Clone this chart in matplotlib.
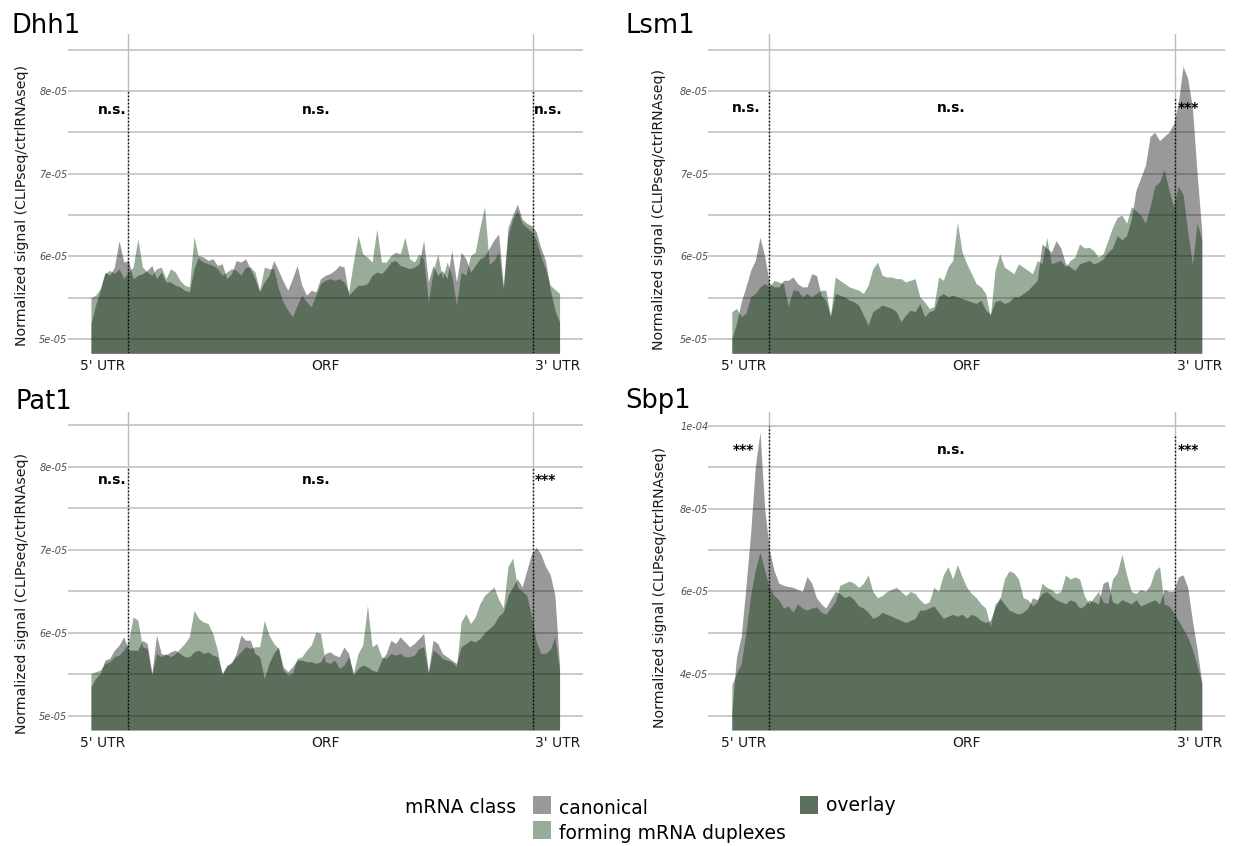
import matplotlib
matplotlib.use("Agg")
import matplotlib.pyplot as plt
import numpy as np
from matplotlib.patches import Rectangle

W, H = 1236, 846
fig = plt.figure(figsize=(W / 100, H / 100), dpi=100)

SCALE = 1e-5
position = np.arange(0, 101)  # metagene position, % of transcript
utr5_end, utr3_start = 8.0, 94.3
region_labels = ["5' UTR", "ORF", "3' UTR"]
region_label_pos = [2.5, 50, 99.5]

# ---------------- data (units of 1e-05) ----------------
dhh1_canonical = [5.19, 5.41, 5.59, 5.81, 5.77, 5.87, 6.19, 5.93, 5.95, 5.73,
                  5.77, 5.79, 5.83, 5.89, 5.73, 5.81, 5.69, 5.69, 5.65, 5.63,
                  5.59, 5.57, 5.85, 6.01, 5.99, 5.95, 5.97, 5.89, 5.91, 5.73,
                  5.79, 5.95, 5.93, 5.97, 5.85, 5.73, 5.57, 5.69, 5.77, 5.95,
                  5.83, 5.70, 5.59, 5.73, 5.89, 5.65, 5.53, 5.59, 5.57, 5.73,
                  5.77, 5.79, 5.83, 5.89, 5.87, 5.53, 5.59, 5.65, 5.65, 5.67,
                  5.77, 5.81, 5.79, 5.85, 5.93, 5.95, 5.89, 5.87, 5.85, 5.87,
                  5.91, 6.19, 5.69, 5.89, 5.77, 5.83, 5.73, 6.07, 5.69, 6.05,
                  5.97, 5.81, 5.89, 5.97, 6.00, 6.10, 6.20, 6.27, 5.65, 6.35,
                  6.50, 6.63, 6.45, 6.40, 6.37, 6.30, 6.10, 5.95, 5.60, 5.35, 5.20]
dhh1_duplex = [5.50, 5.53, 5.61, 5.79, 5.83, 5.79, 5.85, 5.73, 5.81, 5.87,
               6.21, 5.87, 5.81, 5.77, 5.85, 5.87, 5.73, 5.85, 5.81, 5.71,
               5.65, 5.63, 6.24, 5.97, 5.93, 5.91, 5.89, 5.85, 5.77, 5.81,
               5.85, 5.83, 5.77, 5.87, 5.87, 5.81, 5.59, 5.87, 5.85, 5.85,
               5.61, 5.45, 5.35, 5.27, 5.41, 5.53, 5.45, 5.39, 5.53, 5.67,
               5.71, 5.73, 5.71, 5.73, 5.69, 5.57, 5.93, 6.25, 6.03, 5.99,
               5.93, 6.33, 5.93, 5.93, 6.01, 6.05, 6.03, 6.23, 5.97, 5.93,
               6.03, 5.97, 5.45, 5.81, 6.03, 5.73, 5.93, 5.77, 5.41, 5.81,
               5.77, 6.01, 6.05, 6.35, 6.60, 5.90, 5.95, 6.05, 5.60, 6.25,
               6.45, 6.55, 6.40, 6.35, 6.30, 6.20, 6.00, 5.85, 5.65, 5.60, 5.55]

lsm1_canonical = [5.00, 5.19, 5.45, 5.63, 5.83, 5.95, 6.23, 6.00, 5.67, 5.63,
                  5.63, 5.71, 5.71, 5.75, 5.67, 5.63, 5.63, 5.79, 5.77, 5.53,
                  5.47, 5.27, 5.55, 5.53, 5.51, 5.47, 5.45, 5.41, 5.29, 5.17,
                  5.33, 5.37, 5.41, 5.39, 5.37, 5.33, 5.21, 5.29, 5.35, 5.33,
                  5.43, 5.27, 5.33, 5.35, 5.51, 5.55, 5.51, 5.53, 5.51, 5.49,
                  5.47, 5.45, 5.43, 5.47, 5.35, 5.30, 5.45, 5.47, 5.43, 5.45,
                  5.51, 5.51, 5.55, 5.59, 5.65, 5.71, 6.15, 6.10, 6.05, 6.19,
                  6.10, 5.91, 5.87, 5.83, 5.91, 5.93, 5.95, 5.91, 5.93, 5.97,
                  6.05, 6.10, 6.25, 6.20, 6.25, 6.45, 6.80, 6.95, 7.10, 7.45,
                  7.50, 7.40, 7.45, 7.50, 7.60, 7.85, 8.30, 8.15, 7.80, 7.00, 6.30]
lsm1_duplex = [5.33, 5.37, 5.27, 5.31, 5.51, 5.55, 5.63, 5.67, 5.63, 5.71,
               5.69, 5.67, 5.39, 5.59, 5.59, 5.51, 5.55, 5.51, 5.55, 5.59,
               5.59, 5.29, 5.75, 5.71, 5.67, 5.63, 5.61, 5.59, 5.55, 5.65,
               5.85, 5.93, 5.77, 5.75, 5.75, 5.73, 5.73, 5.69, 5.71, 5.73,
               5.51, 5.45, 5.37, 5.39, 5.75, 5.71, 5.87, 5.95, 6.41, 6.05,
               5.91, 5.79, 5.67, 5.63, 5.55, 5.27, 5.83, 6.03, 5.87, 5.83,
               5.79, 5.91, 5.87, 5.83, 5.79, 5.95, 5.91, 6.23, 5.91, 5.93,
               5.95, 5.87, 5.95, 5.99, 6.15, 6.10, 6.11, 6.07, 5.99, 6.03,
               6.19, 6.35, 6.47, 6.50, 6.40, 6.60, 6.55, 6.50, 6.40, 6.60,
               6.85, 6.90, 7.05, 6.80, 6.60, 6.85, 6.75, 6.30, 5.90, 6.40, 6.20]

pat1_canonical = [5.35, 5.45, 5.51, 5.67, 5.69, 5.79, 5.85, 5.95, 5.79, 5.79,
                  5.79, 5.91, 5.87, 5.51, 5.97, 5.75, 5.73, 5.77, 5.79, 5.75,
                  5.71, 5.71, 5.77, 5.79, 5.75, 5.77, 5.73, 5.71, 5.51, 5.61,
                  5.63, 5.75, 5.97, 5.91, 5.91, 5.75, 5.71, 5.45, 5.63, 5.75,
                  5.83, 5.59, 5.53, 5.59, 5.67, 5.67, 5.65, 5.65, 5.63, 5.65,
                  5.75, 5.77, 5.73, 5.71, 5.83, 5.75, 5.49, 5.57, 5.61, 5.59,
                  5.55, 5.53, 5.67, 5.75, 5.91, 5.87, 5.95, 5.89, 5.83, 5.87,
                  5.93, 5.99, 5.53, 5.91, 5.87, 5.75, 5.71, 5.67, 5.63, 5.83,
                  5.87, 5.91, 5.89, 5.93, 6.00, 6.05, 6.10, 6.20, 6.25, 6.45,
                  6.55, 6.65, 6.55, 6.75, 6.95, 7.03, 6.95, 6.80, 6.70, 6.45, 5.60]
pat1_duplex = [5.51, 5.53, 5.55, 5.63, 5.65, 5.71, 5.73, 5.79, 5.89, 6.19,
               6.15, 5.83, 5.81, 5.49, 5.75, 5.71, 5.75, 5.71, 5.75, 5.81,
               5.87, 5.95, 6.27, 6.17, 6.13, 6.11, 5.99, 5.79, 5.49, 5.59,
               5.65, 5.71, 5.77, 5.83, 5.81, 5.83, 5.83, 6.15, 5.97, 5.87,
               5.81, 5.55, 5.49, 5.51, 5.69, 5.71, 5.79, 5.85, 6.01, 5.99,
               5.65, 5.63, 5.67, 5.57, 5.61, 5.71, 5.51, 5.75, 5.85, 6.33,
               5.83, 5.87, 5.71, 5.69, 5.75, 5.73, 5.75, 5.71, 5.71, 5.73,
               5.81, 5.83, 5.51, 5.79, 5.75, 5.69, 5.67, 5.65, 5.59, 6.13,
               6.23, 6.11, 6.19, 6.35, 6.45, 6.50, 6.55, 6.40, 6.30, 6.80,
               6.90, 6.55, 6.50, 6.45, 6.20, 5.90, 5.75, 5.75, 5.80, 5.95, 5.55]

sbp1_canonical = [3.10, 4.42, 4.91, 6.11, 7.40, 9.01, 9.85, 8.00, 7.00, 6.50,
                  6.20, 6.15, 6.12, 6.10, 6.05, 6.00, 6.36, 6.20, 5.85, 5.70,
                  5.60, 5.80, 6.00, 5.95, 5.85, 5.90, 5.80, 5.65, 5.60, 5.50,
                  5.35, 5.40, 5.50, 5.45, 5.40, 5.35, 5.30, 5.25, 5.30, 5.35,
                  5.55, 5.55, 5.60, 5.65, 5.50, 5.35, 5.40, 5.45, 5.40, 5.45,
                  5.35, 5.45, 5.40, 5.30, 5.25, 5.30, 5.60, 5.85, 5.70, 5.55,
                  5.50, 5.45, 5.50, 5.60, 5.85, 5.80, 5.95, 6.00, 5.90, 5.80,
                  5.75, 5.70, 5.80, 5.75, 5.60, 5.65, 5.80, 5.75, 5.70, 6.20,
                  6.25, 5.75, 5.70, 5.80, 5.75, 5.70, 5.80, 5.65, 5.70, 5.75,
                  5.80, 5.70, 6.05, 6.00, 6.00, 6.35, 6.40, 6.10, 5.30, 4.60, 3.80]
sbp1_duplex = [3.75, 4.02, 4.26, 5.00, 5.91, 6.52, 6.95, 6.50, 6.10, 5.90,
               5.80, 5.60, 5.65, 5.50, 5.70, 5.60, 5.55, 5.60, 5.63, 5.50,
               5.45, 5.60, 5.75, 6.15, 6.20, 6.25, 6.20, 6.10, 6.20, 6.40,
               6.00, 5.85, 5.90, 6.00, 6.05, 6.10, 6.00, 5.90, 6.00, 5.95,
               5.80, 5.70, 5.75, 6.10, 6.00, 6.40, 6.60, 6.30, 6.65, 6.35,
               6.10, 5.95, 5.85, 5.70, 5.60, 5.15, 5.70, 5.80, 6.30, 6.50,
               6.45, 6.30, 5.85, 5.80, 5.65, 5.75, 6.20, 6.10, 6.05, 5.95,
               6.00, 6.40, 6.30, 6.35, 6.30, 5.90, 5.70, 5.85, 6.00, 5.75,
               5.70, 6.30, 6.45, 6.90, 6.40, 6.00, 5.95, 6.05, 6.00, 6.15,
               6.50, 6.60, 5.70, 5.65, 5.50, 5.30, 5.10, 4.90, 4.60, 4.20, 3.80]

sig_dhh1 = ["n.s.", "n.s.", "n.s."]
sig_lsm1 = ["n.s.", "n.s.", "***"]
sig_pat1 = ["n.s.", "n.s.", "***"]
sig_sbp1 = ["***", "n.s.", "***"]

# ---------------- styling ----------------
GRID = "#bcbcbc"
CANON_FILL = "#000000"
DUPLEX_FILL = "#002d00"
ALPHA = 0.4

panels = [
    dict(name="Dhh1", canon=dhh1_canonical, dup=dhh1_duplex, sig=sig_dhh1,
         box=(67.5, 34.3, 583.0, 353.3), ylim=(4.827, 8.685),
         major=[5, 6, 7, 8], minor=[5.5, 6.5, 7.5, 8.5],
         labels=["5e-05", "6e-05", "7e-05", "8e-05"],
         sig_x=[4.5, 48.1, 97.6], sig_y=7.72, dot_top=(8.0, 8.0),
         title_xy=(12, 33.3), ylab_xy=(22.5, 206)),
    dict(name="Lsm1", canon=lsm1_canonical, dup=lsm1_duplex, sig=sig_lsm1,
         box=(708.3, 34.3, 1225.3, 353.3), ylim=(4.827, 8.685),
         major=[5, 6, 7, 8], minor=[5.5, 6.5, 7.5, 8.5],
         labels=["5e-05", "6e-05", "7e-05", "8e-05"],
         sig_x=[3.1, 46.7, 97.1], sig_y=7.75, dot_top=(8.0, 7.93),
         title_xy=(625, 33.3), ylab_xy=(659, 210)),
    dict(name="Pat1", canon=pat1_canonical, dup=pat1_duplex, sig=sig_pat1,
         box=(67.5, 411.7, 583.0, 730.0), ylim=(4.828, 8.663),
         major=[5, 6, 7, 8], minor=[5.5, 6.5, 7.5, 8.5],
         labels=["5e-05", "6e-05", "7e-05", "8e-05"],
         sig_x=[4.5, 48.1, 97.0], sig_y=7.79, dot_top=(8.0, 8.0),
         title_xy=(15, 409.3), ylab_xy=(22.5, 593)),
    dict(name="Sbp1", canon=sbp1_canonical, dup=sbp1_duplex, sig=sig_sbp1,
         box=(708.3, 411.7, 1225.3, 730.0), ylim=(2.655, 10.34),
         major=[4, 6, 8, 10], minor=[3, 5, 7, 9],
         labels=["4e-05", "6e-05", "8e-05", "1e-04"],
         sig_x=[2.4, 46.7, 97.1], sig_y=9.32, dot_top=(10.0, 9.77),
         title_xy=(625, 408.3), ylab_xy=(660, 588)),
]

for p in panels:
    x0, y0, x1, y1 = p["box"]
    ax = fig.add_axes([x0 / W, 1 - y1 / H, (x1 - x0) / W, (y1 - y0) / H])
    ymin, ymax = p["ylim"][0] * SCALE, p["ylim"][1] * SCALE
    ax.set_xlim(-5, 105)
    ax.set_ylim(ymin, ymax)
    for s in ax.spines.values():
        s.set_visible(False)
    for v in p["major"] + p["minor"]:
        ax.axhline(v * SCALE, color=GRID, lw=1.1, zorder=0)
    for b in (utr5_end, utr3_start):
        ax.axvline(b, color=GRID, lw=1.0, zorder=0)

    canon = np.array(p["canon"]) * SCALE
    dup = np.array(p["dup"]) * SCALE
    ax.fill_between(position, ymin, canon, color=CANON_FILL, alpha=ALPHA, lw=0, zorder=2)
    ax.fill_between(position, ymin, dup, color=DUPLEX_FILL, alpha=ALPHA, lw=0, zorder=2)

    for b, top in zip((utr5_end, utr3_start), p["dot_top"]):
        ax.vlines(b, ymin, top * SCALE, colors="black", linestyles=(0, (1, 1.6)),
                  lw=1.0, zorder=3)

    for sx, st in zip(p["sig_x"], p["sig"]):
        ax.text(sx, p["sig_y"] * SCALE, st, ha="center", va="baseline",
                fontsize=10, fontweight="bold", color="black", zorder=4)

    ax.set_yticks([v * SCALE for v in p["major"]])
    ax.set_yticklabels(p["labels"], fontsize=7, fontstyle="italic", color="#4d4d4d")
    ax.set_xticks(region_label_pos)
    ax.set_xticklabels(region_labels, fontsize=10, color="#1a1a1a")
    ax.tick_params(axis="both", length=0)
    ax.tick_params(axis="y", pad=0)
    ax.tick_params(axis="x", pad=4)

    tx, ty = p["title_xy"]
    fig.text(tx / W, 1 - ty / H, p["name"], fontsize=18.5, ha="left", va="baseline",
             color="black")
    lx, ly = p["ylab_xy"]
    fig.text(lx / W, 1 - ly / H, "Normalized signal (CLIPseq/ctrlRNAseq)",
             rotation=90, fontsize=10.2, ha="center", va="center", color="#1a1a1a")

# ---------------- legend ----------------
legend_names = ["canonical", "forming mRNA duplexes", "overlay"]
legend_colors = ["#999999", "#99ab99", "#5c6e5c"]
key_boxes = [(533, 796, 551, 813.5), (533, 821, 551, 839), (800, 796, 818, 813.5)]
text_pos = [(559, 813.5), (559, 838.5), (826, 811)]

fig.text(405 / W, 1 - 813 / H, "mRNA class", fontsize=13.5, ha="left", va="baseline")
for name, col, (a, b, c, d), (tx, ty) in zip(legend_names, legend_colors, key_boxes, text_pos):
    fig.add_artist(Rectangle((a / W, 1 - d / H), (c - a) / W, (d - b) / H,
                             transform=fig.transFigure, facecolor=col, edgecolor="none"))
    fig.text(tx / W, 1 - ty / H, name, fontsize=13.5, ha="left", va="baseline")

fig.savefig("out.png", dpi=100)
